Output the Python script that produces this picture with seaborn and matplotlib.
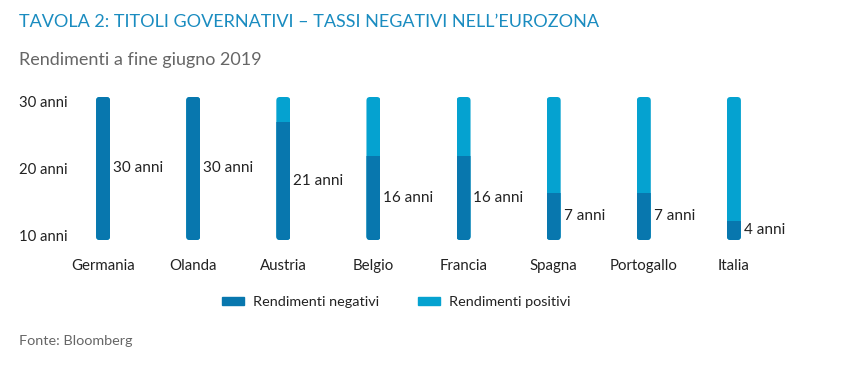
import pandas as pd
import matplotlib.pyplot as plt
import seaborn as sns
from matplotlib.patches import FancyBboxPatch, Patch

# dati
paesi = ['Germania', 'Olanda', 'Austria', 'Belgio', 'Francia', 'Spagna', 'Portogallo', 'Italia']
etichette_anni = [30, 30, 21, 16, 16, 7, 7, 4]            # testo accanto alle barre
rend_negativi = [30, 30, 24.7, 17.6, 17.6, 9.9, 9.9, 4.0]  # altezza disegnata (parte scura)
lunghezza_tot = [30, 30, 30, 30, 30, 30, 30, 30]           # barra intera
tick_anni = ['10 anni', '20 anni', '30 anni']

scuro = '#0877ae'
chiaro = '#05a2d0'

sns.set_theme(style='white')
plt.rcParams['font.family'] = ['Lato', 'DejaVu Sans']

df = pd.DataFrame({'paese': paesi, 'tot': lunghezza_tot, 'neg': rend_negativi})

fig = plt.figure(figsize=(8.48, 3.65), dpi=100)
ax = fig.add_axes([58 / 848, 125 / 365, 721 / 848, 143 / 365])

larg = 0.155
sns.barplot(data=df, x='paese', y='tot', color=chiaro, width=larg, saturation=1, linewidth=0, ax=ax)
sns.barplot(data=df, x='paese', y='neg', color=scuro, width=larg, saturation=1, linewidth=0, ax=ax)

ax.set_xlim(-0.5, 7.5)
ax.set_ylim(0, 30)

# angoli arrotondati: ritaglio di ogni colonna con un rettangolo arrotondato
asp = (30 / 143) / (8 / 721)
n = len(paesi)
for i in range(n):
    p = ax.patches[i]
    clip = FancyBboxPatch((p.get_x(), 0), p.get_width(), lunghezza_tot[i],
                          boxstyle='round,pad=0,rounding_size=0.04',
                          mutation_aspect=asp, transform=ax.transData,
                          fc='none', ec='none')
    ax.patches[i].set_clip_path(clip)
    ax.patches[n + i].set_clip_path(clip)

# etichette anni accanto alla parte scura
for i, (v, h) in enumerate(zip(etichette_anni, rend_negativi)):
    ax.text(i + 0.11, h / 2, f'{v} anni', ha='left', va='center', fontsize=11, color='#222222')

ax.set_yticks([1, 15, 29], labels=tick_anni)
for t in ax.get_yticklabels():
    t.set_ha('left')
ax.tick_params(axis='y', length=0, pad=28, labelsize=10.7, labelcolor='#222222')
ax.tick_params(axis='x', length=0, pad=14, labelsize=10.8, labelcolor='#222222')
ax.set_xlabel('')
ax.set_ylabel('')
sns.despine(ax=ax, left=True, bottom=True)

fig.text(19 / 848, 1 - 22 / 365, 'TAVOLA 2: TITOLI GOVERNATIVI – TASSI NEGATIVI NELL’EUROZONA',
         ha='left', va='center', fontsize=13, color='#1a8cc0')
fig.text(19 / 848, 1 - 60 / 365, 'Rendimenti a fine giugno 2019',
         ha='left', va='center', fontsize=13, color='#666666')
fig.text(19 / 848, 1 - 341 / 365, 'Fonte: Bloomberg',
         ha='left', va='center', fontsize=10.4, color='#666666')

handles = [Patch(color=scuro, label='Rendimenti negativi'),
           Patch(color=chiaro, label='Rendimenti positivi')]
fig.legend(handles=handles, loc='center', bbox_to_anchor=(396 / 848, 1 - 302 / 365), ncol=2,
           frameon=False, fontsize=10.4, handlelength=1.55, handleheight=0.5,
           handletextpad=0.6, columnspacing=2.7, labelcolor='#222222')

fig.savefig('out.png', dpi=100)
